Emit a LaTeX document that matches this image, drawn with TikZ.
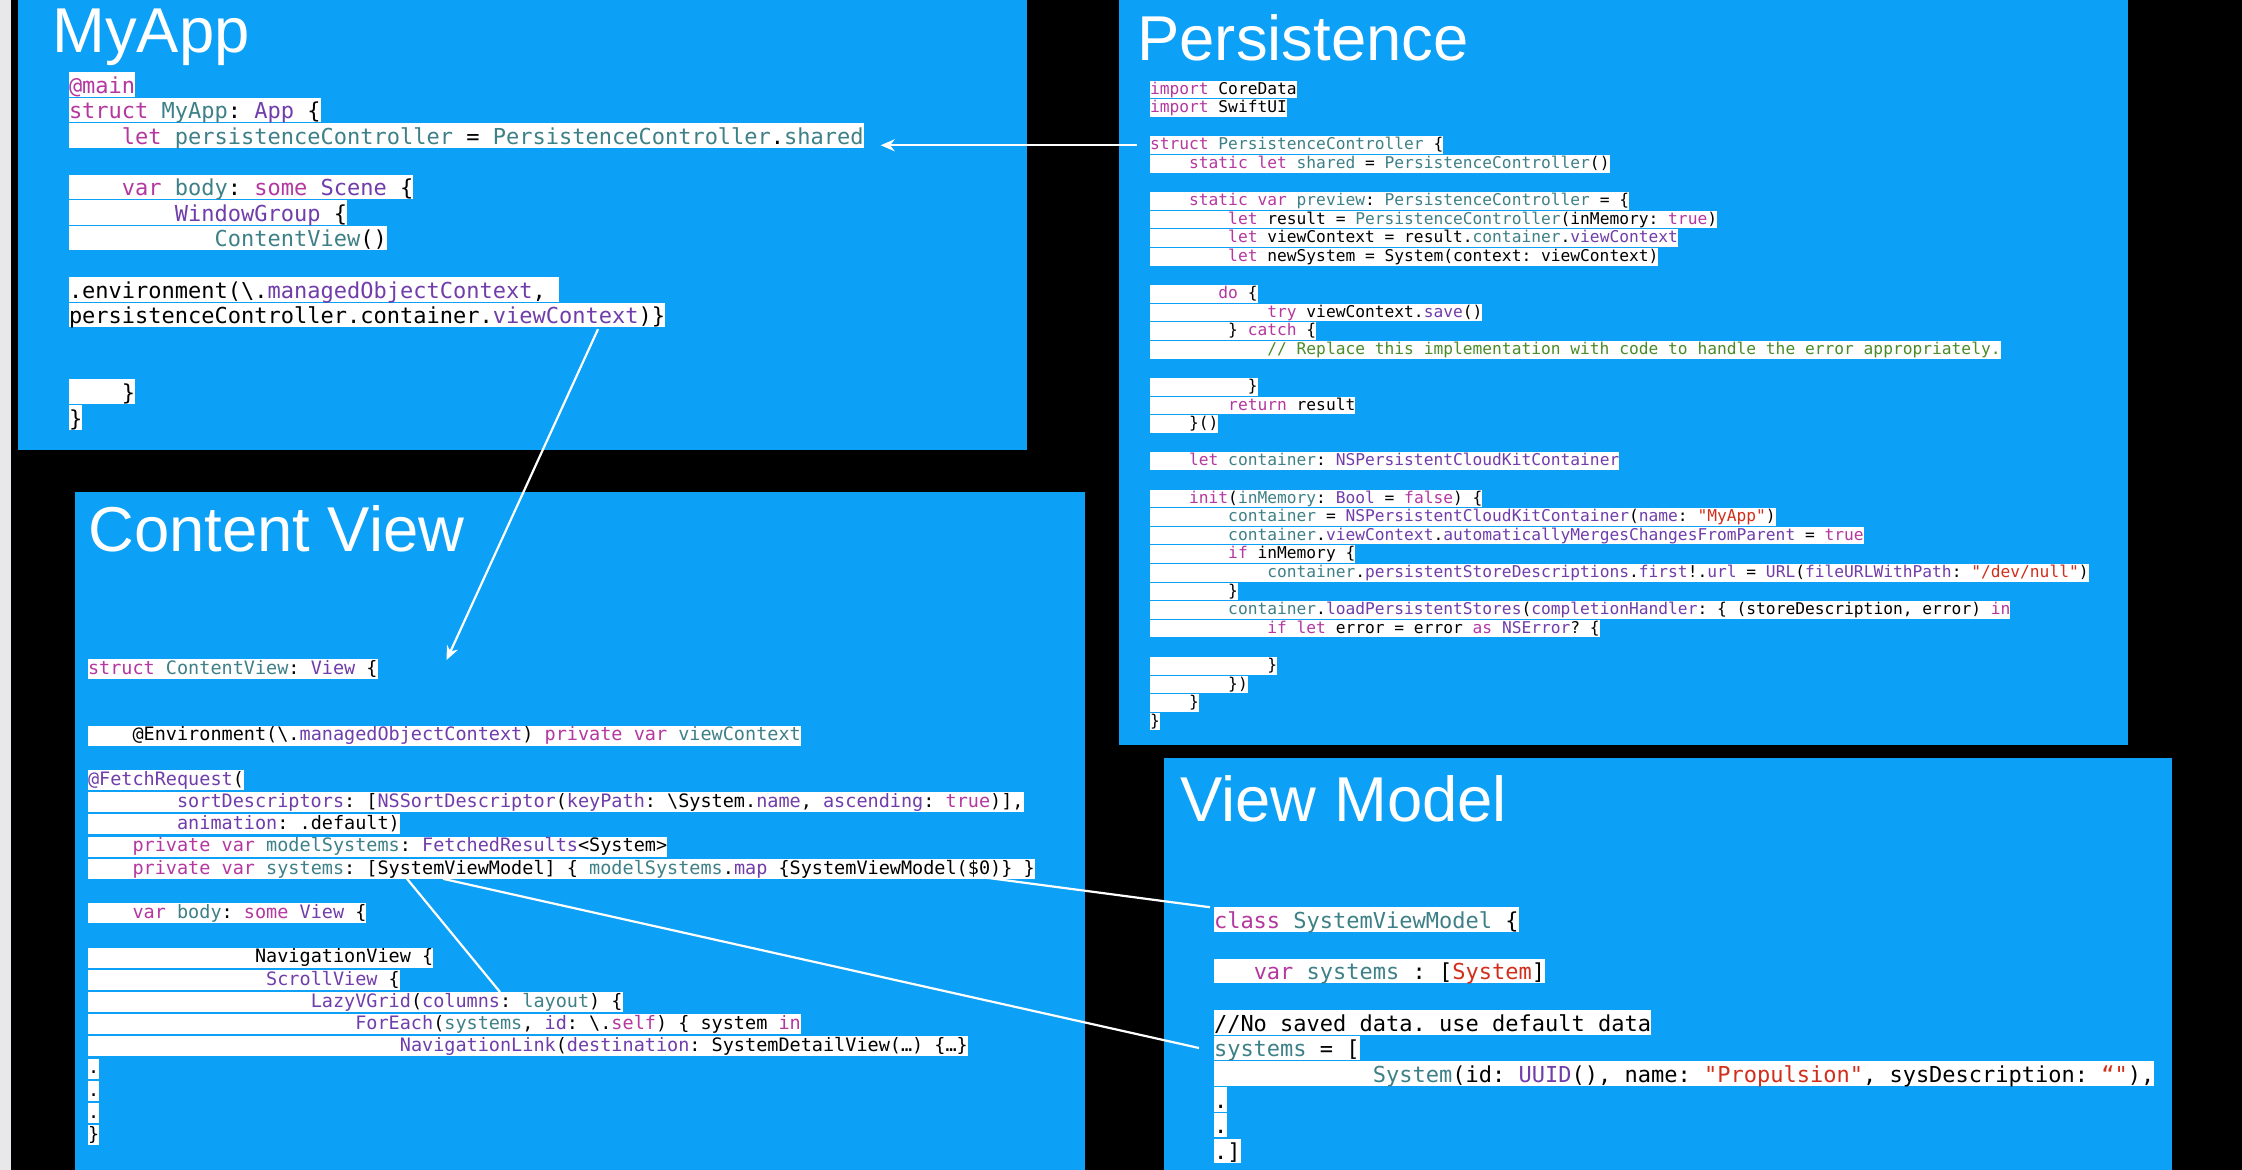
\documentclass[tikz,border=0pt]{standalone}
\usepackage{fontspec}
\usepackage{tikz}
\usetikzlibrary{positioning,calc,arrows.meta}

\newfontfamily\codefont{DejaVu Sans Mono}[Ligatures=TeXOff]
\newfontfamily\titlefont{Liberation Sans}

\definecolor{panelblue}{RGB}{12,160,246}
\definecolor{stripgray}{RGB}{232,232,234}
\definecolor{kwcol}{RGB}{180,56,160}
\definecolor{tycol}{RGB}{112,61,170}
\definecolor{pjcol}{RGB}{62,128,135}
\definecolor{sqcol}{RGB}{209,47,27}
\definecolor{cmtcol}{RGB}{74,140,40}

\newcommand\kw[1]{\textcolor{kwcol}{#1}}
\newcommand\ty[1]{\textcolor{tycol}{#1}}
\newcommand\pj[1]{\textcolor{pjcol}{#1}}
\newcommand\sq[1]{\textcolor{sqcol}{#1}}
\newcommand\cmt[1]{\textcolor{cmtcol}{#1}}
\newcommand\sk[1]{\hspace*{#1\fontdimen2\font}}

\tikzset{
  panel/.style={fill=panelblue},
  title/.style={anchor=base west, inner sep=0pt, text=white,
    font=\titlefont\fontsize{31.7pt}{32pt}\selectfont},
  code/.style={anchor=west, fill=white, inner sep=0pt, outer sep=0pt, text=black},
  bigcode/.style={code, font=\codefont\frenchspacing\fontsize{11pt}{12pt}\selectfont,
    text height=10.5pt, text depth=1.75pt, minimum height=12.25pt},
  midcode/.style={code, font=\codefont\frenchspacing\fontsize{9.25pt}{10pt}\selectfont,
    text height=7.6pt, text depth=2.4pt, minimum height=10pt},
  smallcode/.style={code, font=\codefont\frenchspacing\fontsize{8.12pt}{9pt}\selectfont,
    text height=6.75pt, text depth=2.05pt, minimum height=8.8pt},
  stack/.style 2 args={below=#2 of #1.south west, anchor=north west},
  link/.style={draw=white, line width=1.1pt}
}

\begin{document}
\begin{tikzpicture}[x=0.5pt, y=-0.5pt]
  \useasboundingbox (0,0) rectangle (2242,1170);
  \fill[black] (0,0) rectangle (2242,1170);
  \fill[stripgray] (0,0) rectangle (11,1170);

  % panels
  \fill[panel] (18,0) rectangle (1027,450);
  \fill[panel] (1119,0) rectangle (2128,745);
  \fill[panel] (75,492) rectangle (1085,1170);
  \fill[panel] (1164,758) rectangle (2172,1170);

  \node[title] (tapp) at (52,53) {MyApp};
  \node[title] (tpersist) at (1137,61) {Persistence};
  \node[title] (tcontent) at (88,552) {Content View};
  \node[title] (tmodel) at (1180,821) {View Model};

  % MyApp
  \node[bigcode] (m1) at (69,84.5) {\kw{@main}};
  \node[bigcode, stack={m1}{0.55pt}] (m2) {\kw{struct} \pj{MyApp}: \ty{App} \{};
  \node[bigcode, stack={m2}{0.55pt}] (m3) {\sk4\kw{let} \pj{persistenceController} = \pj{PersistenceController}.\pj{shared}};
  \node[bigcode, stack={m3}{13.35pt}] (m4) {\sk4\kw{var} \pj{body}: \kw{some} \ty{Scene} \{};
  \node[bigcode, stack={m4}{0.55pt}] (m5) {\sk8\ty{WindowGroup} \{};
  \node[bigcode, stack={m5}{0.55pt}] (m6) {\sk{11}\pj{ContentView}()};
  \node[bigcode, stack={m6}{13.35pt}] (m7) {.environment(\textbackslash.\ty{managedObjectContext},\sk1};
  \node[bigcode, stack={m7}{0.55pt}] (m8) {persistenceController.container.\ty{viewContext})\}};
  \node[bigcode, stack={m8}{26.15pt}] (m9) {\sk4\}};
  \node[bigcode, stack={m9}{0.55pt}] (m10) {\}};

  % Persistence
  \node[smallcode] (p0) at (1150,89.5) {\kw{import} CoreData};
  \node[smallcode, stack={p0}{0.495pt}] (p1) {\kw{import} SwiftUI};
  \node[smallcode, stack={p1}{9.79pt}] (p3) {\kw{struct} \pj{PersistenceController} \{};
  \node[smallcode, stack={p3}{0.495pt}] (p4) {\sk4\kw{static} \kw{let} \pj{shared} = \pj{PersistenceController}()};
  \node[smallcode, stack={p4}{9.79pt}] (p6) {\sk4\kw{static} \kw{var} \pj{preview}: \pj{PersistenceController} = \{};
  \node[smallcode, stack={p6}{0.495pt}] (p7) {\sk8\kw{let} result = \pj{PersistenceController}(inMemory: \kw{true})};
  \node[smallcode, stack={p7}{0.495pt}] (p8) {\sk8\kw{let} viewContext = result.\pj{container}.\ty{viewContext}};
  \node[smallcode, stack={p8}{0.495pt}] (p9) {\sk8\kw{let} newSystem = System(context: viewContext)};
  \node[smallcode, stack={p9}{9.79pt}] (p11) {\sk7\kw{do} \{};
  \node[smallcode, stack={p11}{0.495pt}] (p12) {\sk{12}\kw{try} viewContext.\ty{save}()};
  \node[smallcode, stack={p12}{0.495pt}] (p13) {\sk8\} \kw{catch} \{};
  \node[smallcode, stack={p13}{0.495pt}] (p14) {\sk{12}\cmt{// Replace this implementation with code to handle the error appropriately.}};
  \node[smallcode, stack={p14}{9.79pt}] (p16) {\sk{10}\}};
  \node[smallcode, stack={p16}{0.495pt}] (p17) {\sk8\kw{return} result};
  \node[smallcode, stack={p17}{0.495pt}] (p18) {\sk4\}()};
  \node[smallcode, stack={p18}{9.79pt}] (p20) {\sk4\kw{let} \pj{container}: \ty{NSPersistentCloudKitContainer}};
  \node[smallcode, stack={p20}{9.79pt}] (p22) {\sk4\kw{init}(\pj{inMemory}: \ty{Bool} = \kw{false}) \{};
  \node[smallcode, stack={p22}{0.495pt}] (p23) {\sk8\pj{container} = \ty{NSPersistentCloudKitContainer}(\ty{name}: \sq{"MyApp"})};
  \node[smallcode, stack={p23}{0.495pt}] (p24) {\sk8\pj{container}.\ty{viewContext}.\ty{automaticallyMergesChangesFromParent} = \kw{true}};
  \node[smallcode, stack={p24}{0.495pt}] (p25) {\sk8\kw{if} inMemory \{};
  \node[smallcode, stack={p25}{0.495pt}] (p26) {\sk{12}\pj{container}.\ty{persistentStoreDescriptions}.\ty{first}!.\ty{url} = \ty{URL}(\ty{fileURLWithPath}: \sq{"/dev/null"})};
  \node[smallcode, stack={p26}{0.495pt}] (p27) {\sk8\}};
  \node[smallcode, stack={p27}{0.495pt}] (p28) {\sk8\pj{container}.\ty{loadPersistentStores}(\ty{completionHandler}: \{ (storeDescription, error) \kw{in}};
  \node[smallcode, stack={p28}{0.495pt}] (p29) {\sk{12}\kw{if} \kw{let} error = error \kw{as} \ty{NSError}? \{};
  \node[smallcode, stack={p29}{9.79pt}] (p31) {\sk{12}\}};
  \node[smallcode, stack={p31}{0.495pt}] (p32) {\sk8\})};
  \node[smallcode, stack={p32}{0.495pt}] (p33) {\sk4\}};
  \node[smallcode, stack={p33}{0.495pt}] (p34) {\}};

  % Content View
  \node[midcode] (c0) at (88,669) {\kw{struct} \pj{ContentView}: \ty{View} \{};
  \node[midcode, stack={c0}{23.3pt}] (c3) {\sk4@Environment(\textbackslash.\ty{managedObjectContext}) \kw{private} \kw{var} \pj{viewContext}};
  \node[midcode, stack={c3}{12.2pt}] (c5) {\ty{@FetchRequest}(};
  \node[midcode, stack={c5}{1.1pt}] (c6) {\sk8\ty{sortDescriptors}: [\ty{NSSortDescriptor}(\ty{keyPath}: \textbackslash System.\ty{name}, \ty{ascending}: \kw{true})],};
  \node[midcode, stack={c6}{1.1pt}] (c7) {\sk8\ty{animation}: .default)};
  \node[midcode, stack={c7}{1.1pt}] (c8) {\sk4\kw{private} \kw{var} \pj{modelSystems}: \ty{FetchedResults}<System>};
  \node[midcode, stack={c8}{1.1pt}] (c9) {\sk4\kw{private} \kw{var} \pj{systems}: [SystemViewModel] \{ \pj{modelSystems}.\ty{map} \{SystemViewModel(\$0)\} \}};
  \node[midcode, stack={c9}{12.2pt}] (c11) {\sk4\kw{var} \pj{body}: \kw{some} \ty{View} \{};
  \node[midcode, stack={c11}{12.2pt}] (c13) {\sk{15}NavigationView \{};
  \node[midcode, stack={c13}{1.1pt}] (c14) {\sk{16}\ty{ScrollView} \{};
  \node[midcode, stack={c14}{1.1pt}] (c15) {\sk{20}\ty{LazyVGrid}(\ty{columns}: \pj{layout}) \{};
  \node[midcode, stack={c15}{1.1pt}] (c16) {\sk{24}\ty{ForEach}(\pj{systems}, \ty{id}: \textbackslash.\kw{self}) \{ system \kw{in}};
  \node[midcode, stack={c16}{1.1pt}] (c17) {\sk{28}\ty{NavigationLink}(\ty{destination}: SystemDetailView(…) \{…\}};
  \node[midcode, stack={c17}{1.1pt}] (c18) {.};
  \node[midcode, stack={c18}{1.1pt}] (c19) {.};
  \node[midcode, stack={c19}{1.1pt}] (c20) {.};
  \node[midcode, stack={c20}{1.1pt}] (c21) {\}};

  % View Model
  \node[bigcode] (v0) at (1214,919.5) {\kw{class} \pj{SystemViewModel} \{};
  \node[bigcode, stack={v0}{13.45pt}] (v2) {\sk3\kw{var} \pj{systems} : [\sq{System}]};
  \node[bigcode, stack={v2}{13.45pt}] (v4) {//No saved data. use default data};
  \node[bigcode, stack={v4}{0.6pt}] (v5) {\pj{systems} = [};
  \node[bigcode, stack={v5}{0.6pt}] (v6) {\sk{12}\pj{System}(id: \ty{UUID}(), name: \sq{"Propulsion"}, sysDescription: \sq{“"}),};
  \node[bigcode, stack={v6}{0.6pt}] (v7) {.};
  \node[bigcode, stack={v7}{0.6pt}] (v8) {.};
  \node[bigcode, stack={v8}{0.6pt}] (v9) {.]};

  % connectors
  \draw[link, -{Stealth[length=7pt, width=6pt]}] ($(p3.west)+(-13,0)$) -- ($(m3.east |- p3.west)+(17,0)$);
  \draw[link, -{Stealth[length=7pt, width=6pt]}] ($(m8.south east)+(-67,2)$) -- ($(c0.east)+(69,-9)$);
  \draw[link] ($(c9.south west)+(319,0)$) -- ($(c15.north west)+(412,0)$);
  \draw[link] ($(c9.south west)+(355,0)$) -- ($(v5.west)+(-15,0)$);
  \draw[link] ($(c9.south west)+(899,-1)$) -- ($(v0.north west)+(-4,0)$);
\end{tikzpicture}
\end{document}
